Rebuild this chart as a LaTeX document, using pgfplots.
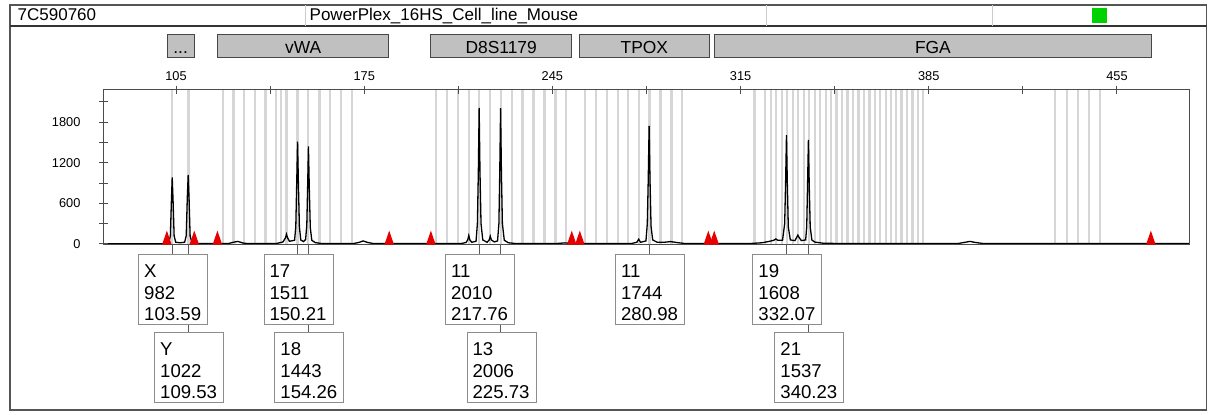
\documentclass[border=0pt]{standalone}
\usepackage{fontspec}
\setmainfont{Liberation Sans}
\usepackage{pgfplots}
\pgfplotsset{compat=1.18}
\usetikzlibrary{calc}
\definecolor{bincol}{RGB}{214,214,214}
\definecolor{locfill}{RGB}{192,192,192}
\definecolor{locdraw}{RGB}{70,70,70}
\definecolor{framecol}{RGB}{85,85,85}
\definecolor{boxcol}{RGB}{140,140,140}
\definecolor{conncol}{RGB}{90,90,90}
\definecolor{greensq}{RGB}{0,210,0}
\definecolor{tri}{RGB}{230,0,0}
\pgfdeclareplotmark{redtri}{%
  \pgfpathmoveto{\pgfqpoint{-2.4pt}{0pt}}%
  \pgfpathlineto{\pgfqpoint{2.4pt}{0pt}}%
  \pgfpathlineto{\pgfqpoint{0pt}{7pt}}%
  \pgfpathclose\pgfusepathqfill}
\newcommand\annbox[5]{%
  \node[draw=boxcol, fill=white, line width=0.5pt, minimum width=34.5pt,
        minimum height=35pt, inner sep=0pt, anchor=north, xshift=0.5pt] (bx) at (#1 |- #2) {};
  \node[anchor=north west, inner sep=0pt, align=left,
        font=\fontsize{9.3pt}{10.8pt}\selectfont]
        at ([xshift=2.8pt, yshift=-5pt]bx.north west) {#3\\#4\\#5};}
\newcommand\locus[3]{%
  \draw[fill=locfill, draw=locdraw, line width=0.5pt] (#1 |- lt) rectangle (#2 |- lb);
  \node[anchor=base, inner sep=0pt, font=\fontsize{8.7pt}{10pt}\selectfont]
        at ($(#1 |- lbase)!0.5!(#2 |- lbase)$) {#3};}
\begin{document}
\begin{tikzpicture}
\path (0,0) rectangle (605.5pt,-207.5pt);
\begin{axis}[
  at={(51.75pt,-122.5pt)}, anchor=south west,
  scale only axis, width=542.9pt, height=77.5pt,
  xmin=78.03, xmax=481.9, ymin=-15, ymax=2275,
  xtick={105,175,...,455}, minor xtick={140,210,...,420},
  ytick={0,600,1200,1800}, minor ytick={300,900,1500,2100},
  xtick pos=right, xticklabel pos=right, ytick pos=left,
  tick align=center, major tick length=4pt, minor tick length=4pt,
  tick style={draw=black!70, line width=0.5pt},
  axis line style={draw=black!70, line width=0.5pt},
  tick label style={font=\fontsize{6.4pt}{7pt}\selectfont},
  /pgf/number format/assume math mode=true,
  /pgf/number format/1000 sep={},
  yticklabel style={xshift=-6pt},
  xticklabel style={yshift=-0.8pt},
  axis on top,
]
% allele bins
\addplot[ycomb, draw=bincol, line width=1.2pt, no markers, forget plot] coordinates {
(103.6,2275)(109.6,2275)
(122.4,2275)(126.4,2275)(130.4,2275)(134.4,2275)(138.3,2275)(142.1,2275)(144.0,2275)
(146.1,2275)(150.2,2275)(154.2,2275)(158.3,2275)(162.3,2275)(166.4,2275)(170.4,2275)
(201.7,2275)(205.8,2275)(209.9,2275)(214.0,2275)(217.8,2275)(221.9,2275)(225.8,2275)
(230.0,2275)(233.9,2275)(238.0,2275)(242.0,2275)(246.1,2275)(250.0,2275)
(257.2,2275)(261.2,2275)(265.2,2275)(269.3,2275)(273.2,2275)(277.3,2275)(281.1,2275)
(285.2,2275)(289.3,2275)(293.3,2275)
(320.1,2275)(324.1,2275)(326.2,2275)(328.2,2275)(330.3,2275)(332.2,2275)(334.4,2275)
(336.3,2275)(338.5,2275)(340.4,2275)(342.6,2275)(344.6,2275)(346.7,2275)(348.7,2275)
(350.7,2275)(352.7,2275)(354.7,2275)(356.8,2275)(358.8,2275)(360.8,2275)(362.9,2275)
(364.9,2275)(366.8,2275)(369.0,2275)(370.9,2275)(372.9,2275)(374.9,2275)(377.0,2275)
(379.0,2275)(381.0,2275)(382.9,2275)
(432.0,2275)(436.3,2275)(440.4,2275)(444.6,2275)(448.7,2275)
};
% trace
\addplot[black, line width=0.65pt, no markers] coordinates {
(78,4)(100,4)(102.3,8)(102.9,120)(103.3,650)(103.59,982)(103.9,650)(104.3,120)(104.9,25)
(106.5,18)(108.2,25)(108.8,120)(109.2,680)(109.53,1022)(109.85,680)(110.25,120)(110.9,22)
(112.5,6)(124.5,6)(126.3,25)(128,38)(129.8,15)(131.5,6)(142.5,8)(144.8,30)(145.7,90)
(146.1,145)(146.5,90)(147.2,40)(149.1,55)(149.55,250)(149.9,900)(150.21,1511)(150.52,900)
(150.9,250)(151.4,60)(152.4,35)(153.2,65)(153.65,280)(153.98,880)(154.26,1443)(154.56,850)
(154.95,240)(155.5,55)(156.8,20)(159,8)(171,6)(173,22)(174.6,45)(176.3,22)(178.5,6)
(211,6)(212.9,22)(213.5,60)(213.9,125)(214.3,60)(215,25)(216.6,40)(217.1,300)(217.45,1050)
(217.76,2010)(218.07,1050)(218.45,300)(219.1,60)(220.7,25)(221.5,60)(221.9,115)(222.3,60)
(223.4,30)(224.6,45)(225.1,300)(225.42,1050)(225.73,2006)(226.04,1050)(226.4,300)(227.1,55)
(228.6,18)(231,8)(247,8)(249.6,16)(252,8)(274.5,8)(276.4,25)(277.1,70)(277.8,25)(279.8,45)
(280.3,300)(280.65,950)(280.98,1744)(281.3,950)(281.7,260)(282.3,60)(284,25)(286.5,25)
(289,35)(291.5,20)(294,8)(319,8)(323,18)(325.6,38)(327.4,55)(328.1,75)(328.8,55)(330.6,55)
(331.4,300)(331.75,920)(332.07,1608)(332.38,900)(332.75,250)(333.5,60)(335.2,50)(335.9,100)
(336.3,130)(336.7,100)(337.6,50)(339.2,60)(339.6,250)(339.92,900)(340.23,1537)(340.54,850)
(340.9,250)(341.5,60)(342.6,28)(345.5,12)(350,8)(396,8)(398.4,24)(400.3,38)(402.4,22)
(405,8)(481.9,6)
};
% locus-boundary markers
\addplot[only marks, mark=redtri, color=tri, mark options={fill=tri}] coordinates {
(101.6,-10)(111.8,-10)(120.4,-10)(184.3,-10)(199.8,-10)(252.2,-10)(255.2,-10)
(303.0,-10)(305.2,-10)(467.6,-10)};
\draw[black!85, line width=1.1pt] (rel axis cs:0,0) -- (rel axis cs:1,0);
% peak and locus anchors
\coordinate (pX) at (axis cs:103.59,0);
\coordinate (pY) at (axis cs:109.53,0);
\coordinate (p17) at (axis cs:150.21,0);
\coordinate (p18) at (axis cs:154.26,0);
\coordinate (p11a) at (axis cs:217.76,0);
\coordinate (p13) at (axis cs:225.73,0);
\coordinate (p11b) at (axis cs:280.98,0);
\coordinate (p19) at (axis cs:332.07,0);
\coordinate (p21) at (axis cs:340.23,0);
\coordinate (L1a) at (axis cs:101.7,0);
\coordinate (L1b) at (axis cs:111.7,0);
\coordinate (L2a) at (axis cs:120.4,0);
\coordinate (L2b) at (axis cs:184.2,0);
\coordinate (L3a) at (axis cs:199.7,0);
\coordinate (L3b) at (axis cs:252.2,0);
\coordinate (L4a) at (axis cs:255.0,0);
\coordinate (L4b) at (axis cs:303.4,0);
\coordinate (L5a) at (axis cs:305.2,0);
\coordinate (L5b) at (axis cs:467.9,0);
\end{axis}
\begin{scope}[x=0.5pt,y=-0.5pt]
\coordinate (r1) at (0,254.3);
\coordinate (r2) at (0,332.3);
\coordinate (lt) at (0,35);
\coordinate (lb) at (0,57.3);
\coordinate (lbase) at (0,53.3);
% frame and header
\draw[framecol, line width=0.75pt] (10,5) rectangle (1206.5,410);
\draw[black!80, line width=1pt] (10,26.5) -- (1206.5,26.5);
\draw[black!20, line width=0.4pt] (305,5.5) -- (305,26) (766.7,5.5) -- (766.7,26) (992.7,5.5) -- (992.7,26);
\node[anchor=base west, inner sep=0pt, font=\fontsize{8.5pt}{10pt}\selectfont] at (17.3,20.7) {7C590760};
\node[anchor=base west, inner sep=0pt, font=\fontsize{8.5pt}{10pt}\selectfont] at (309.3,20.7) {PowerPlex\_16HS\_Cell\_line\_Mouse};
\fill[greensq] (1092,8.3) rectangle (1106.7,23.3);
% locus boxes
\locus{L1a}{L1b}{...}
\locus{L2a}{L2b}{vWA}
\locus{L3a}{L3b}{D8S1179}
\locus{L4a}{L4b}{TPOX}
\locus{L5a}{L5b}{FGA}
% connectors
\draw[conncol, line width=0.5pt] (pX) -- (pX |- r1) (pY) -- (pY |- r2)
  (p17) -- (p17 |- r1) (p18) -- (p18 |- r2)
  (p11a) -- (p11a |- r1) (p13) -- (p13 |- r2)
  (p11b) -- (p11b |- r1) (p19) -- (p19 |- r1) (p21) -- (p21 |- r2);
% allele call boxes
\annbox{pX}{r1}{X}{982}{103.59}
\annbox{pY}{r2}{Y}{1022}{109.53}
\annbox{p17}{r1}{17}{1511}{150.21}
\annbox{p18}{r2}{18}{1443}{154.26}
\annbox{p11a}{r1}{11}{2010}{217.76}
\annbox{p13}{r2}{13}{2006}{225.73}
\annbox{p11b}{r1}{11}{1744}{280.98}
\annbox{p19}{r1}{19}{1608}{332.07}
\annbox{p21}{r2}{21}{1537}{340.23}
\end{scope}
\end{tikzpicture}
\end{document}
